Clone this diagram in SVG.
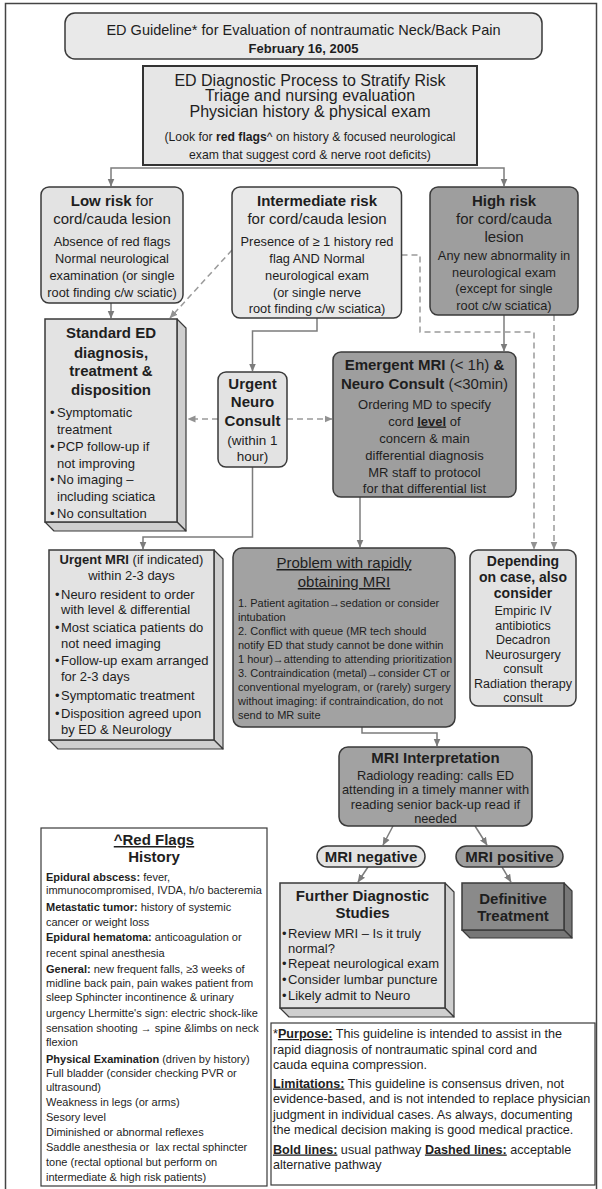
<svg xmlns="http://www.w3.org/2000/svg" width="602" height="1189" viewBox="0 0 602 1189">
<defs>
<style>
text{font-family:"Liberation Sans",Arial,sans-serif;fill:#1e1e1e}
.m{text-anchor:middle}
.b{font-weight:bold}
.u{text-decoration:underline}
.f16{font-size:16px}
.f15{font-size:15px}
.f14{font-size:14px}
.f13{font-size:13px}
.f128{font-size:12.8px}
.f125{font-size:12.5px}
.f11{font-size:11px}
.lt{fill:#e3e3e3;stroke:#3a3a3a;stroke-width:1.5}
.lt2{fill:#e9e9e9;stroke:#3a3a3a;stroke-width:1.5}
.dk{fill:#9e9e9e;stroke:#3a3a3a;stroke-width:1.5}
.dk2{fill:#8a8a8a;stroke:#3a3a3a;stroke-width:1.5}
.lts{fill:#cfcfcf;stroke:#3a3a3a;stroke-width:1.2;stroke-linejoin:round}
.dks{fill:#777;stroke:#3a3a3a;stroke-width:1.2;stroke-linejoin:round}
.note{fill:#fff;stroke:#3a3a3a;stroke-width:1.2}
.flow{fill:none;stroke:#7c7c7c;stroke-width:1.5}
.alt{fill:none;stroke:#9a9a9a;stroke-width:1.5;stroke-dasharray:6 4}
</style>
<marker id="ah" viewBox="0 0 8 8" refX="7.5" refY="4" markerWidth="8" markerHeight="8" markerUnits="userSpaceOnUse" orient="auto">
<path d="M0,0.5 L8,4 L0,7.5 z" fill="#7c7c7c"/>
</marker>
<marker id="ahd" viewBox="0 0 8 8" refX="7.5" refY="4" markerWidth="8" markerHeight="8" markerUnits="userSpaceOnUse" orient="auto">
<path d="M0,0.5 L8,4 L0,7.5 z" fill="#929292"/>
</marker>
</defs>

<rect x="0" y="0" width="602" height="1189" fill="#fff"/>
<rect x="5.5" y="3.5" width="591" height="1200" fill="none" stroke="#444" stroke-width="1.5"/>

<!-- connectors -->
<g id="connectors">
<path class="flow" d="M310,168 H111 V186" marker-end="url(#ah)"/>
<path class="flow" d="M310,168 H504 V186" marker-end="url(#ah)"/>
<path class="flow" d="M111,303 V318" marker-end="url(#ah)"/>
<path class="flow" d="M317,318 V331 H252.5 V371" marker-end="url(#ah)"/>
<path class="flow" d="M504,315 V351" marker-end="url(#ah)"/>
<path class="flow" d="M360,497 V547" marker-end="url(#ah)"/>
<path class="flow" d="M252.5,467 V537 H143 V549" marker-end="url(#ah)"/>
<path class="flow" d="M362,727 V733 H437 V746" marker-end="url(#ah)"/>
<path class="flow" d="M393,826 L383,845" marker-end="url(#ah)"/>
<path class="flow" d="M475,826 L487,845" marker-end="url(#ah)"/>
<path class="flow" d="M368,867 L358,882" marker-end="url(#ah)"/>
<path class="flow" d="M502,867 L511,882" marker-end="url(#ah)"/>
<path class="alt" d="M232,250 L170,318" marker-end="url(#ahd)"/>
<path class="alt" d="M218,419 H188" marker-end="url(#ahd)"/>
<path class="alt" d="M287,419 H332" marker-end="url(#ahd)"/>
<path class="alt" d="M401.5,255 H420 V332 H534 V549" marker-end="url(#ahd)"/>
<path class="alt" d="M554,315 V549" marker-end="url(#ahd)"/>
</g>

<g id="title">
<rect class="lt2" x="65" y="13" width="477" height="46" rx="10"/>
<text class="m f15" x="303.5" y="35" style="font-size:14.5px">ED Guideline* for Evaluation of nontraumatic Neck/Back Pain</text>
<text class="m b" x="303.5" y="53" style="font-size:13px">February 16, 2005</text>
</g>

<g id="diagnostic-process">
<rect x="143" y="66" width="334" height="99" fill="#e6e6e6" stroke="#333" stroke-width="2"/>
<text class="m f16" x="310" y="85.5">ED Diagnostic Process to Stratify Risk</text>
<text class="m f16" x="310" y="100.5">Triage and nursing evaluation</text>
<text class="m f16" x="310" y="116.5">Physician history &amp; physical exam</text>
<text class="m" x="310" y="141" style="font-size:12.2px">(Look for <tspan class="b">red flags</tspan>^ on history &amp; focused neurological</text>
<text class="m" x="310" y="159" style="font-size:12.2px">exam that suggest cord &amp; nerve root deficits)</text>
</g>

<g id="low-risk">
<rect class="lt" x="41" y="187" width="142" height="116" rx="8"/>
<text class="m f15" x="112" y="205.5"><tspan class="b">Low risk</tspan> for</text>
<text class="m f15" x="112" y="223.5">cord/cauda lesion</text>
<text class="m f128" x="112" y="245.5">Absence of red flags</text>
<text class="m f128" x="112" y="262.5">Normal neurological</text>
<text class="m f128" x="112" y="279.5">examination (or single</text>
<text class="m f128" x="112" y="296.5">root finding c/w sciatic)</text>
</g>

<g id="intermediate-risk">
<rect class="lt2" x="232" y="187" width="169.5" height="131" rx="8"/>
<text class="m f15 b" x="317" y="205.5">Intermediate risk</text>
<text class="m f15" x="317" y="223.5">for cord/cauda lesion</text>
<text class="m f128" x="317" y="245.5">Presence of ≥ 1 history red</text>
<text class="m f128" x="317" y="262.5">flag AND Normal</text>
<text class="m f128" x="317" y="279.5">neurological exam</text>
<text class="m f128" x="317" y="296.5">(or single nerve</text>
<text class="m f128" x="317" y="312.5">root finding c/w sciatica)</text>
</g>

<g id="high-risk">
<rect class="dk" x="430" y="187" width="148" height="128" rx="8"/>
<text class="m f15 b" x="504" y="205.5">High risk</text>
<text class="m f15" x="504" y="223.5">for cord/cauda</text>
<text class="m f15" x="504" y="242">lesion</text>
<text class="m f128" x="504" y="259.5">Any new abnormality in</text>
<text class="m f128" x="504" y="276.5">neurological exam</text>
<text class="m f128" x="504" y="292.5">(except for single</text>
<text class="m f128" x="504" y="310">root c/w sciatica)</text>
</g>

<g id="standard-ed">
<polygon class="lts" points="177,319 186,328 186,531 177,522"/>
<polygon class="lts" points="45,522 177,522 186,531 54,531"/>
<rect class="lt" x="45" y="319" width="132" height="203"/>
<text class="m f15 b" x="111" y="337.5">Standard ED</text>
<text class="m f15 b" x="111" y="357.5">diagnosis,</text>
<text class="m f15 b" x="111" y="375.5">treatment &amp;</text>
<text class="m f15 b" x="111" y="394.5">disposition</text>
<g class="f13">
<text x="50" y="416.5">•</text><text x="57" y="416.5">Symptomatic</text>
<text x="57" y="433.5">treatment</text>
<text x="50" y="450.5">•</text><text x="57" y="450.5">PCP follow-up if</text>
<text x="57" y="467.5">not improving</text>
<text x="50" y="483.5">•</text><text x="57" y="483.5">No imaging –</text>
<text x="57" y="500.5">including sciatica</text>
<text x="50" y="517.5">•</text><text x="57" y="517.5">No consultation</text>
</g>
</g>

<g id="urgent-neuro-consult">
<rect class="lt" x="218" y="372" width="69" height="95" rx="8"/>
<text class="m f15 b" x="252.5" y="388.5">Urgent</text>
<text class="m f15 b" x="252.5" y="407">Neuro</text>
<text class="m f15 b" x="252.5" y="425.5">Consult</text>
<text class="m" x="252.5" y="445" style="font-size:13.5px">(within 1</text>
<text class="m" x="252.5" y="461" style="font-size:13.5px">hour)</text>
</g>

<g id="emergent-mri">
<rect class="dk" x="333" y="352" width="183" height="145" rx="8"/>
<text class="m f15" x="424.5" y="369.5"><tspan class="b">Emergent MRI</tspan> (&lt; 1h) <tspan class="b">&amp;</tspan></text>
<text class="m f15" x="424.5" y="388.5"><tspan class="b">Neuro Consult</tspan> (&lt;30min)</text>
<text class="m f13" x="424.5" y="408.5">Ordering MD to specify</text>
<text class="m f13" x="424.5" y="425.5">cord <tspan class="b u">level</tspan> of</text>
<text class="m f13" x="424.5" y="442.5">concern &amp; main</text>
<text class="m f13" x="424.5" y="459.5">differential diagnosis</text>
<text class="m f13" x="424.5" y="476.5">MR staff to protocol</text>
<text class="m f13" x="424.5" y="493">for that differential list</text>
</g>

<g id="urgent-mri">
<polygon class="lts" points="214,550 223,559 223,749 214,740"/>
<polygon class="lts" points="49,740 214,740 223,749 58,749"/>
<rect class="lt" x="49" y="550" width="165" height="190"/>
<text class="m f13" x="131.5" y="564"><tspan class="b">Urgent MRI</tspan> (if indicated)</text>
<text class="m f13" x="131.5" y="580">within 2-3 days</text>
<g class="f13">
<text x="55" y="598.5">•</text><text x="61" y="598.5">Neuro resident to order</text>
<text x="61" y="613.5">with level &amp; differential</text>
<text x="55" y="631.5">•</text><text x="61" y="631.5">Most sciatica patients do</text>
<text x="61" y="647.5">not need imaging</text>
<text x="55" y="664.5">•</text><text x="61" y="664.5">Follow-up exam arranged</text>
<text x="61" y="680.5">for 2-3 days</text>
<text x="55" y="699.5">•</text><text x="61" y="699.5">Symptomatic treatment</text>
<text x="55" y="717.5">•</text><text x="61" y="717.5">Disposition agreed upon</text>
<text x="61" y="733.5">by ED &amp; Neurology</text>
</g>
</g>

<g id="problem-obtaining-mri">
<rect class="dk" x="233" y="548" width="222" height="179" rx="9" style="fill:#a2a2a2"/>
<text class="m f15 u" x="344" y="568">Problem with rapidly</text>
<text class="m f15 u" x="344" y="587">obtaining MRI</text>
<g class="f11">
<text x="238" y="607">1. Patient agitation→sedation or consider</text>
<text x="238" y="621">intubation</text>
<text x="238" y="635">2. Conflict with queue (MR tech should</text>
<text x="238" y="649">notify ED that study cannot be done within</text>
<text x="238" y="663">1 hour)→attending to attending prioritization</text>
<text x="238" y="677">3. Contraindication (metal)→consider CT or</text>
<text x="238" y="691">conventional myelogram, or (rarely) surgery</text>
<text x="238" y="705">without imaging: if contraindication, do not</text>
<text x="238" y="719">send to MR suite</text>
</g>
</g>

<g id="depending-on-case">
<rect class="lt" x="470" y="550" width="106" height="156" rx="8"/>
<text class="m f14 b" x="523" y="566">Depending</text>
<text class="m f14 b" x="523" y="582">on case, also</text>
<text class="m f14 b" x="523" y="598">consider</text>
<text class="m f125" x="523" y="614.5">Empiric IV</text>
<text class="m f125" x="523" y="629.5">antibiotics</text>
<text class="m f125" x="523" y="643.5">Decadron</text>
<text class="m f125" x="523" y="658.5">Neurosurgery</text>
<text class="m f125" x="523" y="672.5">consult</text>
<text class="m f125" x="523" y="687.5">Radiation therapy</text>
<text class="m f125" x="523" y="701.5">consult</text>
</g>

<g id="mri-interpretation">
<rect class="dk" x="339" y="747" width="193" height="79" rx="9" style="fill:#a2a2a2"/>
<text class="m f15 b" x="435.5" y="762.5">MRI Interpretation</text>
<text class="m f128" x="435.5" y="779.5">Radiology reading: calls ED</text>
<text class="m f128" x="435.5" y="794">attending in a timely manner with</text>
<text class="m f128" x="435.5" y="808.5">reading senior back-up read if</text>
<text class="m f128" x="435.5" y="823">needed</text>
</g>

<g id="mri-negative">
<rect class="lt" x="317" y="846" width="108" height="21" rx="10.5"/>
<text class="m f15 b" x="371" y="862">MRI negative</text>
</g>

<g id="mri-positive">
<rect class="dk" x="456" y="846" width="107" height="21" rx="10.5"/>
<text class="m f15 b" x="509.5" y="862">MRI positive</text>
</g>

<g id="further-studies">
<polygon class="lts" points="445,883 454,892 454,1017 445,1008"/>
<polygon class="lts" points="280,1008 445,1008 454,1017 289,1017"/>
<rect class="lt" x="280" y="883" width="165" height="125"/>
<text class="m f15 b" x="362.5" y="900.5">Further Diagnostic</text>
<text class="m f15 b" x="362.5" y="917.5">Studies</text>
<g class="f13">
<text x="282" y="937.5">•</text><text x="288" y="937.5">Review MRI – Is it truly</text>
<text x="288" y="952.5">normal?</text>
<text x="282" y="967.5">•</text><text x="288" y="967.5">Repeat neurological exam</text>
<text x="282" y="983.5">•</text><text x="288" y="983.5">Consider lumbar puncture</text>
<text x="282" y="999.5">•</text><text x="288" y="999.5">Likely admit to Neuro</text>
</g>
</g>

<g id="definitive-treatment">
<polygon class="dks" points="564,883 572,891 572,938 564,930"/>
<polygon class="dks" points="462,930 564,930 572,938 470,938"/>
<rect class="dk2" x="462" y="883" width="102" height="47"/>
<text class="m f15 b" x="513" y="903.5">Definitive</text>
<text class="m f15 b" x="513" y="920.5">Treatment</text>
</g>

<g id="red-flags">
<rect class="note" x="41" y="828" width="226" height="358"/>
<text class="m f15 b u" x="154" y="845">^Red Flags</text>
<text class="m f15 b" x="154" y="862">History</text>
<g class="f11">
<text x="46" y="881"><tspan class="b">Epidural abscess:</tspan> fever,</text>
<text x="46" y="894">immunocompromised, IVDA, h/o bacteremia</text>
<text x="46" y="911"><tspan class="b">Metastatic tumor:</tspan> history of systemic</text>
<text x="46" y="926">cancer or weight loss</text>
<text x="46" y="941"><tspan class="b">Epidural hematoma:</tspan> anticoagulation or</text>
<text x="46" y="957">recent spinal anesthesia</text>
<text x="46" y="973"><tspan class="b">General:</tspan> new frequent falls, ≥3 weeks of</text>
<text x="46" y="987">midline back pain, pain wakes patient from</text>
<text x="46" y="1001">sleep Sphincter incontinence &amp; urinary</text>
<text x="46" y="1017">urgency Lhermitte's sign: electric shock-like</text>
<text x="46" y="1032">sensation shooting → spine &amp;limbs on neck</text>
<text x="46" y="1046">flexion</text>
<text x="46" y="1063"><tspan class="b">Physical Examination</tspan> (driven by history)</text>
<text x="46" y="1077">Full bladder (consider checking PVR or</text>
<text x="46" y="1091">ultrasound)</text>
<text x="46" y="1106">Weakness in legs (or arms)</text>
<text x="46" y="1121">Sesory level</text>
<text x="46" y="1136">Diminished or abnormal reflexes</text>
<text x="46" y="1151">Saddle anesthesia or&#160; lax rectal sphincter</text>
<text x="46" y="1166">tone (rectal optional but perform on</text>
<text x="46" y="1181">intermediate &amp; high risk patients)</text>
</g>
</g>

<g id="purpose-note">
<rect class="note" x="271" y="1023" width="324" height="162"/>
<g style="font-size:12.6px">
<text x="273" y="1038">*<tspan class="b u">Purpose:</tspan> This guideline is intended to assist in the</text>
<text x="273" y="1053.5">rapid diagnosis of nontraumatic spinal cord and</text>
<text x="273" y="1069">cauda equina compression.</text>
<text x="273" y="1087.5"><tspan class="b u">Limitations:</tspan> This guideline is consensus driven, not</text>
<text x="273" y="1103">evidence-based, and is not intended to replace physician</text>
<text x="273" y="1118.5">judgment in individual cases. As always, documenting</text>
<text x="273" y="1134">the medical decision making is good medical practice.</text>
<text x="273" y="1153.5"><tspan class="b u">Bold lines:</tspan> usual pathway <tspan class="b u">Dashed lines:</tspan> acceptable</text>
<text x="273" y="1169">alternative pathway</text>
</g>
</g>
</svg>
